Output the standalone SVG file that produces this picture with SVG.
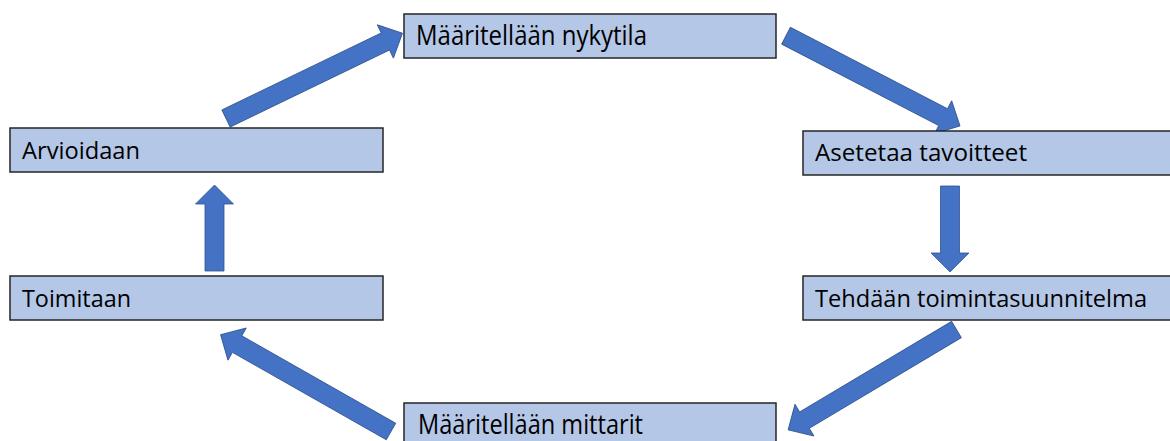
<svg xmlns="http://www.w3.org/2000/svg" xmlns:xlink="http://www.w3.org/1999/xlink" width="1170" height="441" viewBox="0 0 1170 441">
<style>
.box{fill:#B4C7E7;stroke:#262626;stroke-width:1.5}
.lbl{font-family:"Open Sans","Liberation Sans",Arial,sans-serif;font-size:23px;fill:#000}
.tall{font-size:27px}
.arr{fill:#4472C4;stroke:#2F528F;stroke-width:0.8}
</style>
<defs>
<path id="arrowD" d="M0,-9.5 H177 V-18.5 L196,0 L177,18.5 V9.5 H0 Z"/>
<path id="arrowV" d="M0,-9.5 H67 V-19 L86,0 L67,19 V9.5 H0 Z"/>
</defs>
<rect width="1170" height="441" fill="#fff"/>
<g id="connectors">
<use class="arr" href="#arrowD" transform="translate(226,118.5) rotate(-25.8)"/>
<use class="arr" href="#arrowD" transform="translate(786,35.7) rotate(27.4)"/>
<use class="arr" href="#arrowV" transform="translate(950,186) rotate(90)"/>
<use class="arr" href="#arrowD" transform="translate(956.5,329.5) rotate(149.2)"/>
<use class="arr" href="#arrowD" transform="translate(391,431.5) rotate(-150.4)"/>
<use class="arr" href="#arrowV" transform="translate(214.5,271) rotate(-90)"/>
</g>
<g id="node-nykytila">
<rect class="box" x="404" y="14" width="372" height="44"/>
<text class="lbl tall" x="416" y="45" textLength="231" lengthAdjust="spacingAndGlyphs">Määritellään nykytila</text>
</g>
<g id="node-tavoitteet">
<rect class="box" x="803" y="131" width="380" height="44"/>
<text class="lbl" x="815" y="161" textLength="212" lengthAdjust="spacingAndGlyphs">Asetetaa tavoitteet</text>
</g>
<g id="node-suunnitelma">
<rect class="box" x="803" y="276" width="380" height="44"/>
<text class="lbl" x="815" y="307" textLength="332" lengthAdjust="spacingAndGlyphs">Tehdään toimintasuunnitelma</text>
</g>
<g id="node-mittarit">
<rect class="box" x="404" y="403" width="372" height="50"/>
<text class="lbl tall" x="418" y="434" textLength="225" lengthAdjust="spacingAndGlyphs">Määritellään mittarit</text>
</g>
<g id="node-toimitaan">
<rect class="box" x="10" y="276" width="373" height="44"/>
<text class="lbl" x="22" y="307" textLength="109" lengthAdjust="spacingAndGlyphs">Toimitaan</text>
</g>
<g id="node-arvioidaan">
<rect class="box" x="10" y="128" width="373" height="44"/>
<text class="lbl" x="22" y="159" textLength="118" lengthAdjust="spacingAndGlyphs">Arvioidaan</text>
</g>
</svg>
